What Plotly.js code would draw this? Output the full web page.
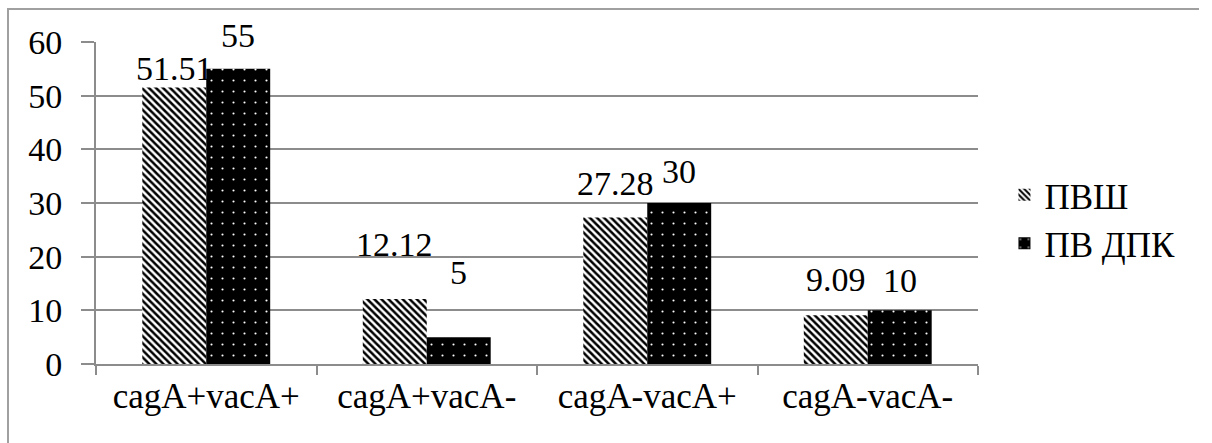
<!DOCTYPE html>
<html>
<head>
<meta charset="utf-8">
<script src="https://cdn.plot.ly/plotly-3.0.1.min.js"></script>
<style>
  html, body { margin: 0; padding: 0; background: #fff; }
  #chart { position: absolute; left: 0; top: 0; width: 1212px; height: 443px; }
  #frame { position: absolute; left: 7px; top: 8px; width: 1190px; height: 440px;
           border-top: 2px solid #a0a0a0; border-left: 2px solid #a0a0a0; pointer-events: none; }
</style>
</head>
<body>
<div id="chart"></div>
<div id="frame"></div>
<script>
const categories = ['cagA+vacA+', 'cagA+vacA-', 'cagA-vacA+', 'cagA-vacA-'];
const seriesNames = ['ПВШ', 'ПВ ДПК'];
const pvsh = [51.51, 12.12, 27.28, 9.09];
const pvdpk = [55, 5, 30, 10];
const yTicks = [0, 10, 20, 30, 40, 50, 60];

// label placement (pixel offsets above bar top, as in the source chart)
const labelLift1 = [19, 54, 34, 36];
const labelLift2 = [33, 65, 32, 30];

const GRID = '#8c8c8c';
const FONT = 'Liberation Serif';

const traces = [
  {
    type: 'bar', name: seriesNames[0], x: categories, y: pvsh,
    marker: { color: '#ffffff', line: { width: 0 },
      pattern: { shape: '\\', fgcolor: '#000000', bgcolor: '#ffffff', size: 5, solidity: 0.5 } },
    hoverinfo: 'none'
  },
  {
    type: 'bar', name: seriesNames[1], x: categories, y: pvdpk,
    marker: { color: '#000000', line: { width: 0 },
      pattern: { shape: '.', fgcolor: '#ffffff', bgcolor: '#000000', size: 11, solidity: 0.03 } },
    hoverinfo: 'none'
  }
];

const annotations = [];
categories.forEach((c, i) => {
  annotations.push({ x: c, y: pvsh[i], xref: 'x', yref: 'y', text: String(pvsh[i]),
    showarrow: false, xshift: -32, yshift: labelLift1[i], yanchor: 'middle',
    font: { family: FONT, size: 34, color: '#000000' } });
  annotations.push({ x: c, y: pvdpk[i], xref: 'x', yref: 'y', text: String(pvdpk[i]),
    showarrow: false, xshift: 32, yshift: labelLift2[i], yanchor: 'middle',
    font: { family: FONT, size: 34, color: '#000000' } });
});

const layout = {
  width: 1212, height: 443,
  margin: { l: 96, r: 234, t: 42, b: 79, pad: 0 },
  paper_bgcolor: '#ffffff', plot_bgcolor: '#ffffff',
  barmode: 'group', bargap: 0.42, bargroupgap: 0,
  showlegend: true,
  legend: { x: 1.03, xanchor: 'left', y: 0.45, yanchor: 'middle',
    font: { family: FONT, size: 35, color: '#000000' }, bgcolor: 'rgba(0,0,0,0)' },
  xaxis: {
    type: 'category', showline: true, linecolor: GRID, linewidth: 2,
    ticks: 'outside', tickson: 'boundaries', ticklen: 9, tickcolor: GRID, tickwidth: 2,
    showgrid: false, tickfont: { family: FONT, size: 35, color: '#000000' }, fixedrange: true
  },
  yaxis: {
    range: [0, 60], tickvals: yTicks, ticktext: yTicks.map(String),
    showline: true, linecolor: GRID, linewidth: 2,
    ticks: 'outside', ticklen: 13, tickcolor: GRID, tickwidth: 2,
    showgrid: true, gridcolor: GRID, gridwidth: 2, zeroline: false,
    ticklabelstandoff: 12,
    tickfont: { family: FONT, size: 34, color: '#000000' }, fixedrange: true
  },
  annotations: annotations
};

Plotly.newPlot('chart', traces, layout, { displayModeBar: false });
</script>
</body>
</html>
